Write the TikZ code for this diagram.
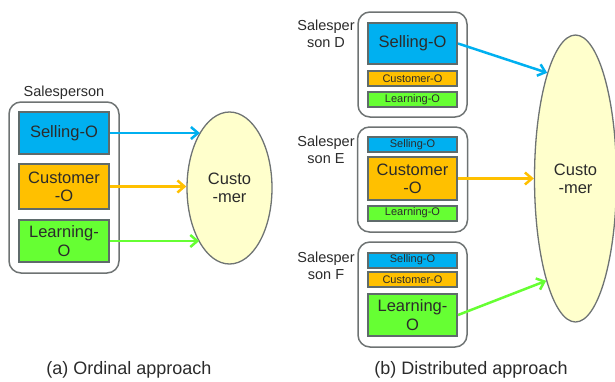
\documentclass[tikz,border=0pt]{standalone}
\usepackage{fontspec}
\setmainfont{Liberation Sans}
\usetikzlibrary{arrows.meta,shapes.geometric}

\definecolor{sellblue}{HTML}{00B0F0}
\definecolor{custorange}{HTML}{FFC000}
\definecolor{learngreen}{HTML}{66FF33}
\definecolor{custfill}{HTML}{FFFFCC}
\definecolor{boxgray}{HTML}{5F6B6B}
\definecolor{framegray}{HTML}{6E7373}
\definecolor{ink}{HTML}{2B2B2B}

\begin{document}
\begin{tikzpicture}[x=1pt,y=-1pt,
  person/.style={draw=framegray, line width=1.5pt, rounded corners=12pt, fill=white,
                 minimum width=109pt, minimum height=105pt, inner sep=0pt},
  role/.style={draw=boxgray, line width=2pt, minimum width=89pt, inner sep=0pt,
               text=ink, align=center},
  bigrole/.style={role, minimum height=42pt, font=\fontsize{16.5}{18.3}\selectfont},
  smallrole/.style={role, minimum height=15pt, font=\fontsize{11}{12}\selectfont},
  sellfill/.style={fill=sellblue},
  custfillstyle/.style={fill=custorange},
  learnfill/.style={fill=learngreen},
  customer/.style={ellipse, draw=framegray, line width=1.3pt, fill=custfill, inner sep=0pt,
                   align=center, text=ink, font=\fontsize{16.5}{18.3}\selectfont},
  who/.style={align=center, text=ink, font=\fontsize{14.5}{17}\selectfont, inner sep=0pt},
  caption/.style={text=ink, font=\fontsize{18}{20}\selectfont, inner sep=0pt},
  link/.style={line width=2.5pt, -{Straight Barb[length=7pt,width=12pt]}}
]
\useasboundingbox (0,0) rectangle (615,381);

% ---------- (a) one salesperson holding all three roles ----------
\node[who] (labA) at (64,93) {Salesperson};
\node[person, minimum width=110pt, minimum height=171pt] (perA) at (64,187.5) {};
\node[bigrole, sellfill, minimum width=90pt] (selA) at (64,133) {Selling-O};
\node[bigrole, custfillstyle, minimum width=90pt, minimum height=45pt] (cusA) at (64,186.5) {Customer\\-O};
\node[bigrole, learnfill, minimum width=90pt] (lrnA) at (64,241) {Learning-\\O};
\node[customer, minimum width=85pt, minimum height=152pt] (cliA) at (229.5,188) {Custo\\-mer};

\draw[link, sellblue]   (selA.east) -- (selA.east -| cliA.118);
\draw[link, custorange] (cusA.east) -- (cusA.east -| cliA.west);
\draw[link, learngreen] (lrnA.east) -- (lrnA.east -| cliA.241);

% ---------- (b) three salespersons, each leading one role ----------
% Salesperson D
\node[who] (labD) at (326,34) {Salesper\\son D};
\node[person] (perD) at (412.5,64.5) {};
\node[bigrole, sellfill, minimum height=41pt] (selD) at (412.5,43.5) {Selling-O};
\node[smallrole, custfillstyle] (cusD) at (412.5,78.5) {Customer-O};
\node[smallrole, learnfill] (lrnD) at (412.5,99.5) {Learning-O};

% Salesperson E
\node[who] (labE) at (326,150) {Salesper\\son E};
\node[person, minimum width=110pt] (perE) at (412.5,179.5) {};
\node[smallrole, sellfill] (selE) at (412.5,144.5) {Selling-O};
\node[bigrole, custfillstyle, minimum height=43pt] (cusE) at (412.5,178.5) {Customer\\-O};
\node[smallrole, learnfill] (lrnE) at (412.5,213) {Learning-O};

% Salesperson F
\node[who] (labF) at (326,265.5) {Salesper\\son F};
\node[person] (perF) at (412.5,294.5) {};
\node[smallrole, sellfill] (selF) at (412.5,260) {Selling-O};
\node[smallrole, custfillstyle] (cusF) at (412.5,279.5) {Customer-O};
\node[bigrole, learnfill] (lrnF) at (412.5,315) {Learning-\\O};

% shared customer
\node[customer, minimum width=82pt, minimum height=287pt] (cliB) at (575.5,178.5) {Custo\\-mer};

\draw[link, sellblue]   (selD.east) -- (cliB.105.7);
\draw[link, custorange] (cusE.east) -- (cusE.east -| cliB.west);
\draw[link, learngreen] (lrnF.east) -- (cliB.254.3);

% ---------- captions ----------
\node[caption] (capA) at (129,370) {(a) Ordinal approach};
\node[caption] (capB) at (471,370) {(b) Distributed approach};
\end{tikzpicture}
\end{document}
